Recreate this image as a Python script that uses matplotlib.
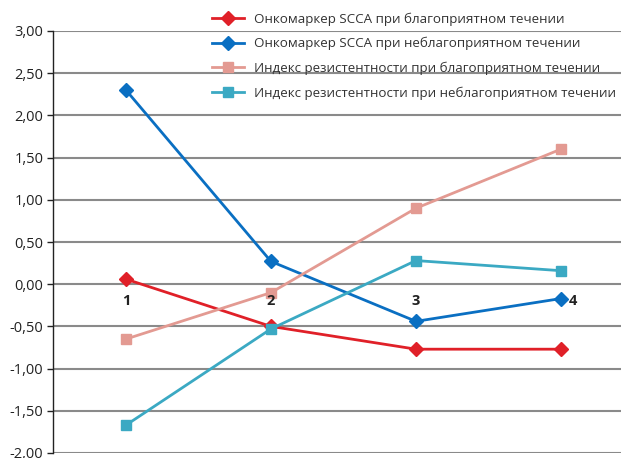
import matplotlib
matplotlib.use("Agg")
from matplotlib import pyplot as plt
from matplotlib.ticker import FuncFormatter

plt.rcParams['font.family'] = ['Open Sans', 'DejaVu Sans']

points = [1, 2, 3, 4]
scca_good = [0.06, -0.50, -0.77, -0.77]
scca_bad = [2.30, 0.27, -0.44, -0.17]
ri_good = [-0.65, -0.10, 0.90, 1.60]
ri_bad = [-1.67, -0.53, 0.28, 0.16]

labels = [
    'Онкомаркер SCCA при благоприятном течении',
    'Онкомаркер SCCA при неблагоприятном течении',
    'Индекс резистентности при благоприятном течении',
    'Индекс резистентности при неблагоприятном течении',
]

fig = plt.figure(figsize=(6.21, 4.58), dpi=100)
ax = fig.add_axes([53 / 621, 1 - 453 / 458, 1 - 53 / 621, 422 / 458])

x = list(range(len(points)))
ax.plot(x, scca_good, color='#e02028', lw=2, marker='D', ms=7.5, label=labels[0])
ax.plot(x, scca_bad, color='#0a6fc2', lw=2, marker='D', ms=7.5, label=labels[1])
ax.plot(x, ri_good, color='#e39a92', lw=2, marker='s', ms=7, label=labels[2])
ax.plot(x, ri_bad, color='#3ba9c3', lw=2, marker='s', ms=7, label=labels[3])

# номера точек у нулевой линии
offs = [0, 0, 0, 0.08]
for i, p in enumerate(points):
    ax.text(i + offs[i], -0.12, str(p), ha='center', va='top',
            fontsize=10.5, fontweight='bold', color='#222222')

ax.set_ylim(-2, 3)
ax.set_xlim(-0.503, 3.414)
ax.set_yticks([-2 + 0.5 * k for k in range(11)])
ax.yaxis.set_major_formatter(FuncFormatter(lambda v, p: f'{v:.2f}'.replace('.', ',')))
ax.set_xticks([])
ax.tick_params(axis='y', labelsize=10.5, length=4, width=1, color='#222222',
               labelcolor='#222222', pad=3)
ax.grid(axis='y', color='#8a8a8a', lw=1.5)
ax.set_axisbelow(True)
for s in ['top', 'right', 'bottom']:
    ax.spines[s].set_visible(False)
ax.spines['left'].set_color('#222222')
ax.spines['left'].set_linewidth(1)

leg = ax.legend(loc='upper left', bbox_to_anchor=(0.27, 1.057), frameon=False,
                fontsize=9.6, handlelength=2.4, labelspacing=0.85,
                handletextpad=0.8, borderaxespad=0)
for t in leg.get_texts():
    t.set_color('#333333')

fig.savefig('out.png', dpi=100)
